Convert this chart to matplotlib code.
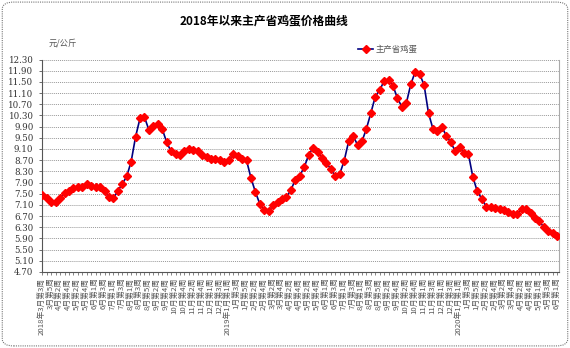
import datetime
import matplotlib
matplotlib.use("Agg")
import matplotlib.pyplot as plt
from matplotlib.patches import FancyBboxPatch

plt.rcParams['font.family'] = ['Noto Sans CJK SC', 'DejaVu Sans']

# weekly price, 2018 Mar wk3 .. 2020 Jun
prices = [
    7.46, 7.34, 7.19, 7.19, 7.34, 7.54, 7.61, 7.70, 7.74, 7.74,
    7.84, 7.79, 7.74, 7.74, 7.58, 7.37, 7.34, 7.60, 7.85, 8.12,
    8.65, 9.54, 10.20, 10.24, 9.78, 9.93, 9.99, 9.82, 9.34, 9.01,
    8.91, 8.89, 9.01, 9.09, 9.07, 9.01, 8.89, 8.81, 8.75, 8.74,
    8.69, 8.63, 8.71, 8.91, 8.86, 8.74, 8.69, 8.06, 7.56, 7.13,
    6.90, 6.89, 7.08, 7.22, 7.32, 7.38, 7.64, 8.00, 8.15, 8.45,
    8.89, 9.15, 8.99, 8.79, 8.59, 8.39, 8.12, 8.21, 8.68, 9.37,
    9.57, 9.25, 9.37, 9.82, 10.38, 10.97, 11.21, 11.53, 11.57, 11.36,
    10.91, 10.61, 10.74, 11.41, 11.86, 11.78, 11.39, 10.38, 9.82, 9.76,
    9.90, 9.57, 9.34, 9.03, 9.16, 8.95, 8.91, 8.09, 7.58, 7.32,
    7.04, 7.04, 6.99, 6.95, 6.90, 6.83, 6.78, 6.78, 6.95, 6.95,
    6.81, 6.63, 6.51, 6.30, 6.15, 6.09, 6.00,
]
first_week = datetime.date(2018, 3, 15)  # Thursday of 2018年3月第3周
yticks = [4.70 + 0.40 * i for i in range(20)]

labels = []
for i in range(len(prices)):
    d = first_week + datetime.timedelta(weeks=i)
    s = f"{d.month}月第{(d.day - 1) // 7 + 1}周"
    if i == 0 or (d.month == 1 and d.day <= 7):
        s = f"{d.year}年" + s
    labels.append(s)

fig = plt.figure(figsize=(5.7, 3.48), dpi=100)
fig.patches.append(FancyBboxPatch((0.004, 0.006), 0.992, 0.988, boxstyle="round,pad=0,rounding_size=0.02",
                                  transform=fig.transFigure, fill=False, ec="#777777", lw=0.8, ls=(0, (1, 1))))

ax = fig.add_axes([0.0732, 0.2184, 0.9075, 0.6106])
x = list(range(len(prices)))
ax.plot(x, prices, color="#000080", lw=1.2, marker="D", ms=3.6, mfc="red", mec="red", zorder=3)

ax.set_ylim(4.70, 12.30)
ax.set_yticks(yticks)
ax.set_yticklabels([f"{v:.2f}" for v in yticks], family="DejaVu Serif", fontsize=6.2, color="#333333")
ax.yaxis.grid(True, color="#999999", ls=(0, (1, 1)), lw=0.7)
ax.set_xlim(-0.15, len(prices) - 0.6)
ax.set_xticks(x)
ax.set_xticklabels([s if i % 2 == 0 else "" for i, s in enumerate(labels)], rotation=90, fontsize=5.6, color="#555555")
ax.tick_params(axis="x", length=2, width=0.5, pad=2, colors="#555555")
ax.tick_params(axis="y", length=2, width=0.5, pad=4, colors="#333333")
ax.spines["top"].set_visible(False)
ax.spines["right"].set_color("#aaaaaa")
ax.spines["left"].set_color("#555555")
ax.spines["bottom"].set_color("#555555")

fig.text(0.463, 0.94, "2018年以来主产省鸡蛋价格曲线", ha="center", va="center", fontsize=8.5, fontweight="bold")
fig.text(0.085, 0.876, "元/公斤", ha="left", va="center", fontsize=6, color="#555555")
ax.plot([], [], color="#000080", lw=1.2, marker="D", ms=3.6, mfc="red", mec="red", label="主产省鸡蛋")
leg = ax.legend(loc="lower left", bbox_to_anchor=(0.605, 1.01), frameon=False, fontsize=6,
                handlelength=1.8, handletextpad=0.3, borderaxespad=0)
for t in leg.get_texts():
    t.set_color("#555555")

plt.savefig("out.png", dpi=100)
plt.close()
